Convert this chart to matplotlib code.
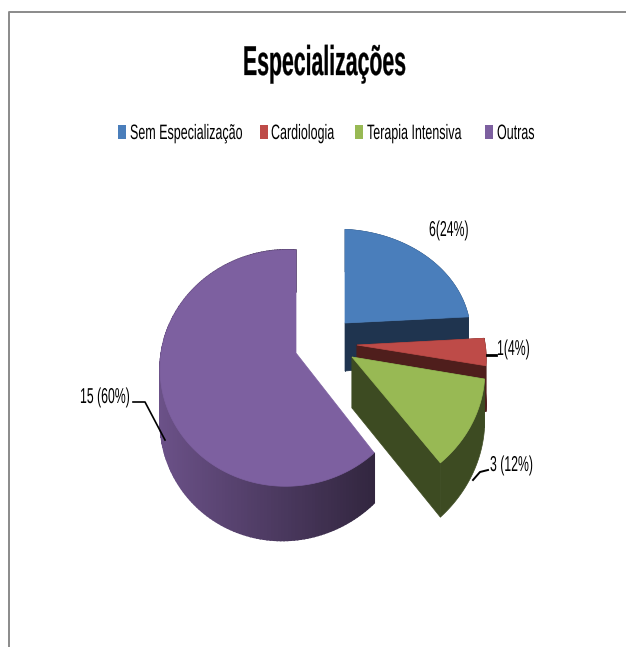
import numpy as np
import matplotlib
matplotlib.use('Agg')
import matplotlib.pyplot as plt
from matplotlib.patches import Rectangle
from matplotlib.colors import to_rgb
from matplotlib.patheffects import AbstractPathEffect
from matplotlib.transforms import Affine2D

# chart data
categories = ["Sem Especialização", "Cardiologia", "Terapia Intensiva", "Outras"]
values = [6, 1, 3, 15]
point_labels = ["6(24%)", "1(4%)", "3 (12%)", "15 (60%)"]

top_colors = ["#4a7ebb", "#be4b48", "#98b954", "#7d60a0"]
side_colors = ["#1f344f", "#4f1e1c", "#3d4b22", None]

# layout of the exploded slices: apex in pixels, x/y scale, depth
anchors = [(345, 323), (357, 345), (352, 357), (296, 353)]
scales = [(1.07, 0.91), (1.10, 1.0), (1.13, 1.06), (1.0, 1.0)]
depths = [48, 48, 51, 47]

RX, RY = 125, 116
K, M = 0.127, -0.072

plt.rcParams['font.family'] = ['Liberation Sans', 'DejaVu Sans']


class Squeeze(AbstractPathEffect):
    # narrows text around x0, the reference font is a stretched Calibri
    def __init__(self, x0, sx, lw=0.0):
        super().__init__()
        self.x0, self.sx, self.lw = x0, sx, lw

    def draw_path(self, renderer, gc, tpath, affine, rgbFace=None):
        squeezed = affine + Affine2D().translate(-self.x0, 0).scale(self.sx, 1).translate(self.x0, 0)
        gc0 = renderer.new_gc()
        gc0.copy_properties(gc)
        if self.lw:
            gc0.set_linewidth(self.lw)
            gc0.set_foreground(rgbFace)
        renderer.draw_path(gc0, tpath, squeezed, rgbFace)
        gc0.restore()


def narrow_text(ax, x, y, s, size, sx, lw=0.0, **kw):
    ax.text(x, y, s, fontsize=size, ha='left', va='baseline', color='black', zorder=20,
            path_effects=[Squeeze(x, sx, lw)], **kw)


def project(theta, anchor, scale):
    # perspective view of the pie disc, theta clockwise from the top
    u = np.sin(theta)
    v = -np.cos(theta)
    den = 1 - K * v - M * u
    x = anchor[0] + scale[0] * RX * u / den
    y = anchor[1] + scale[1] * RY * v / den
    return x, y, den


def mix(c1, c2, t):
    c1, c2 = np.array(to_rgb(c1)), np.array(to_rgb(c2))
    return tuple(c1 + (c2 - c1) * t)


def draw_slice(ax, start, end, anchor, scale, depth, top, side, z):
    theta = np.linspace(start, end, 160)
    x, y, den = project(theta, anchor, scale)
    h = depth / den

    if side is not None:
        # outer wall and the two cut faces
        ax.fill(np.r_[x, x[::-1]], np.r_[y, (y + h)[::-1]], color=side, lw=0.5, zorder=z)
        for i in [0, -1]:
            ax.fill([anchor[0], x[i], x[i], anchor[0]],
                    [anchor[1], y[i], y[i] + h[i], anchor[1] + depth],
                    color=side, lw=0.5, zorder=z)
    else:
        # outer wall shaded from left to right
        for i in range(len(x) - 1):
            t = np.clip((x[i] - 160) / (375 - 160), 0, 1)
            c = mix("#6b5188", "#32263f", t)
            ax.fill([x[i], x[i + 1], x[i + 1], x[i]],
                    [y[i], y[i + 1], y[i + 1] + h[i + 1], y[i] + h[i]],
                    color=c, lw=1.2, zorder=z)

    ax.fill(np.r_[anchor[0], x], np.r_[anchor[1], y], color=top, lw=0.5, zorder=z + 1)


fig = plt.figure(figsize=(6.26, 6.47), dpi=100)
ax = fig.add_axes([0, 0, 1, 1])
ax.set_xlim(0, 626)
ax.set_ylim(647, 0)
ax.axis('off')

# slices go clockwise from the top, painter's order blue, red, green, purple
edges = np.r_[0, np.cumsum(values)] / sum(values) * 2 * np.pi
for i in range(len(values)):
    draw_slice(ax, edges[i], edges[i + 1], anchors[i], scales[i], depths[i],
               top_colors[i], side_colors[i], 2 + 2 * i)

# chart frame, only left and top survive
ax.plot([9, 9, 626], [647, 12, 12], color="#8a8a8a", lw=1.4)

narrow_text(ax, 243, 75, "Especializações", 30, 0.51, lw=0.2, fontweight='bold')

# legend, placed by hand because of the narrowed text
swatch_x = [118, 260, 355, 485]
legend_text_x = [130, 271, 367, 497]
for name, color, sx0, tx0 in zip(categories, top_colors, swatch_x, legend_text_x):
    ax.add_patch(Rectangle((sx0, 125), 8, 14, color=color, lw=0))
    narrow_text(ax, tx0, 139, name, 15, 0.6)

label_pos = [(429, 236), (497, 355), (490, 471), (80, 403)]
for txt, (lx, ly) in zip(point_labels, label_pos):
    narrow_text(ax, lx, ly, txt, 15.5, 0.57)

# leader lines
ax.plot([487, 496], [355, 355], color='black', lw=2, zorder=15)
ax.plot([473, 480, 488], [480, 472, 470], color='black', lw=1.4, zorder=15)
ax.plot([133, 145, 165], [402, 402, 440], color='black', lw=1.2, zorder=15)

plt.savefig("out.png", dpi=100)
plt.close()
